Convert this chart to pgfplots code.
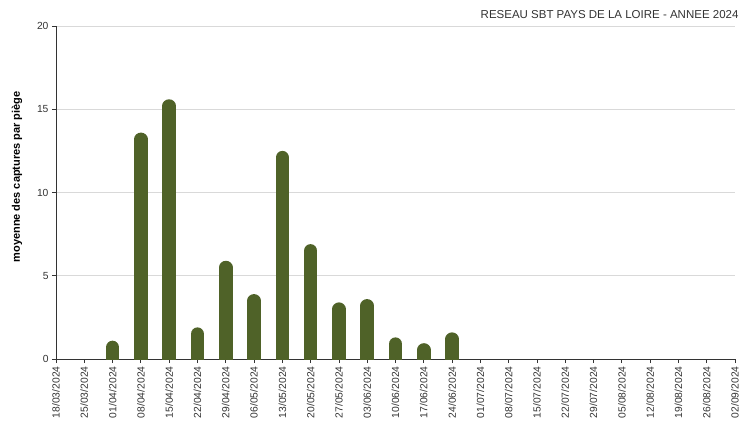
\documentclass[border=0pt]{standalone}
\usepackage{pgfplots}
\pgfplotsset{compat=1.18}
\usepackage{fontspec}
\setmainfont{Liberation Sans}
\definecolor{barcol}{HTML}{4F6228}
\definecolor{txt}{HTML}{333333}
\definecolor{gridcol}{HTML}{D9D9D9}

\begin{document}
\begin{tikzpicture}
\useasboundingbox (-56bp,-62bp) rectangle (691bp,359bp);
\begin{axis}[
  scale only axis, width=679bp, height=333bp,
  xmin=0, xmax=24, ymin=0, ymax=20,
  axis x line*=bottom, axis y line*=left,
  axis line style={-, draw=txt, line width=0.8bp},
  xtick={0,...,24},
  xticklabels={18/03/2024,25/03/2024,01/04/2024,08/04/2024,15/04/2024,22/04/2024,
    29/04/2024,06/05/2024,13/05/2024,20/05/2024,27/05/2024,03/06/2024,10/06/2024,
    17/06/2024,24/06/2024,01/07/2024,08/07/2024,15/07/2024,22/07/2024,29/07/2024,
    05/08/2024,12/08/2024,19/08/2024,26/08/2024,02/09/2024},
  xticklabel style={rotate=90, anchor=east, font=\fontsize{10.3bp}{12bp}\selectfont, text=txt},
  ytick={0,5,10,15,20},
  yticklabel style={font=\fontsize{10.3bp}{12bp}\selectfont, text=txt},
  /pgf/number format/assume math mode=true,
  ymajorgrids, grid style={draw=gridcol, line width=0.8bp},
  tick align=outside, major tick length=4bp, tick style={draw=txt, line width=0.8bp},
  ylabel={moyenne des captures par piège},
  every axis y label/.style={at={(axis description cs:-0.0575,0.547)}, rotate=90, anchor=center,
    font=\bfseries\fontsize{11bp}{13bp}\selectfont, text=black},
  title={RESEAU SBT PAYS DE LA LOIRE - ANNEE 2024},
  every axis title/.style={at={(axis description cs:1,1)}, anchor=east, xshift=7bp, yshift=11bp,
    font=\fontsize{11.5bp}{13bp}\selectfont, text=txt},
]
% bars: thick combs with round caps, shifted down by the cap radius so the
% rounded top ends at the value; the bottom cap is clipped at y=0
\addplot[ycomb, draw=barcol, line width=13.5bp, line cap=round, yshift=-6.75bp] coordinates {
  (2,1.1) (3,13.6) (4,15.6) (5,1.9) (6,5.9) (7,3.9) (8,12.5) (9,6.9)
  (10,3.4) (11,3.6) (12,1.3) (13,0.95) (14,1.6)};
\end{axis}
\end{tikzpicture}
\end{document}
